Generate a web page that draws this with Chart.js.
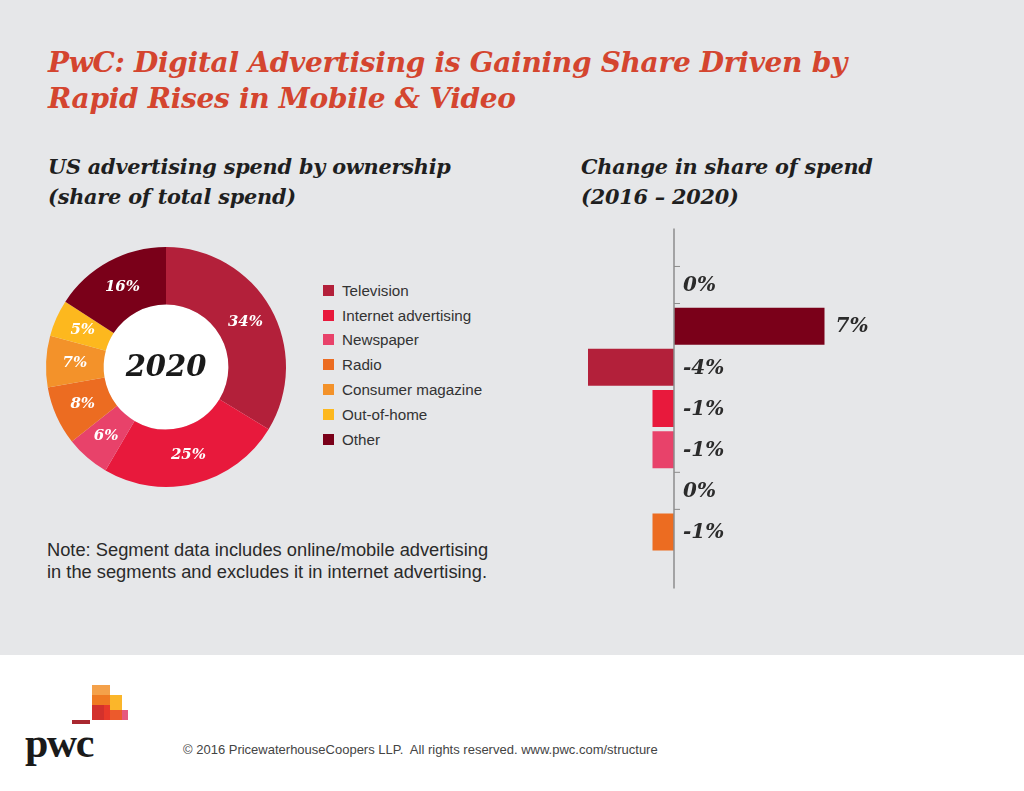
<!DOCTYPE html>
<html>
<head>
<meta charset="utf-8">
<script src="https://cdn.jsdelivr.net/npm/chart.js@4.4.1/dist/chart.umd.min.js"></script>
<style>
  html, body { margin: 0; padding: 0; }
  body { width: 1024px; height: 791px; position: relative; background: #fff; overflow: hidden; font-family: "Liberation Sans", Arial, sans-serif; }
  #panel { position: absolute; left: 0; top: 0; width: 1024px; height: 655px; background: #e6e7e9; }
  .serif { font-family: "DejaVu Serif", Georgia, serif; font-weight: bold; font-style: italic; }
  #title { position: absolute; left: 48px; top: 45px; font-size: 28px; line-height: 36px; color: #d4452f; letter-spacing: -0.3px; }
  .sub { position: absolute; top: 152px; font-size: 20.8px; line-height: 30px; color: #1f1f1f; letter-spacing: -0.2px; }
  #legend { position: absolute; left: 323px; top: 278px; }
  .item { height: 24.8px; display: flex; align-items: center; font-size: 15.2px; color: #333; }
  .sw { width: 11px; height: 11px; margin-right: 8px; }
  #note { position: absolute; left: 47px; top: 539px; font-size: 18.3px; line-height: 21.5px; color: #2a2a2a; }
  #foot { position: absolute; left: 183px; top: 742px; font-size: 13px; color: #444; }
  #pwc { position: absolute; left: 25px; top: 722px; font-family: "Liberation Serif", serif; font-weight: bold; font-size: 42px; line-height: 42px; color: #1a1a1a; letter-spacing: -1.5px; }
  .blk { position: absolute; }
  canvas { position: absolute; }
</style>
</head>
<body>
<div id="panel"></div>
<div id="title" class="serif">PwC: Digital Advertising is Gaining Share Driven by<br>Rapid Rises in Mobile &amp; Video</div>
<div class="sub serif" style="left:48px">US advertising spend by ownership<br>(share of total spend)</div>
<div class="sub serif" style="left:581px">Change in share of spend<br>(2016 – 2020)</div>
<div id="legend"></div>
<div id="note">Note: Segment data includes online/mobile advertising<br>in the segments and excludes it in internet advertising.</div>

<canvas id="donut" width="260" height="260" style="left:36px; top:237px"></canvas>
<canvas id="bars" width="340" height="380" style="left:560px; top:220px"></canvas>

<div class="blk" style="left:92px; top:685px; width:18px; height:10px; background:#f4a14a"></div>
<div class="blk" style="left:92px; top:695px; width:18px; height:10px; background:#ef7a22"></div>
<div class="blk" style="left:110px; top:695px; width:12px; height:15px; background:#fbb62a"></div>
<div class="blk" style="left:92px; top:705px; width:12px; height:15px; background:#d3312c"></div>
<div class="blk" style="left:104px; top:705px; width:6px; height:15px; background:#e8392a"></div>
<div class="blk" style="left:110px; top:710px; width:12px; height:10px; background:#ec5a2c"></div>
<div class="blk" style="left:122px; top:710px; width:6px; height:10px; background:#e6587e"></div>
<div class="blk" style="left:72px; top:720px; width:18px; height:4px; background:#a92830"></div>
<div id="pwc">pwc</div>
<div id="foot">© 2016 PricewaterhouseCoopers LLP.&nbsp; All rights reserved. www.pwc.com/structure</div>

<script>
const segments = ["Television", "Internet advertising", "Newspaper", "Radio", "Consumer magazine", "Out-of-home", "Other"];
const share2020 = [34, 25, 6, 8, 7, 5, 16];
const segColors = ["#b3203a", "#e8193c", "#e8426a", "#ec6c21", "#f3922a", "#fdb81e", "#7a0019"];

const changeRows = ["Out-of-home", "Other", "Television", "Internet advertising", "Newspaper", "Consumer magazine", "Radio"];
const changeValues = [0, 7, -4, -1, -1, 0, -1];
const changeColors = ["#fdb81e", "#7a0019", "#b3203a", "#e8193c", "#e8426a", "#f3922a", "#ec6c21"];

const serif = "'DejaVu Serif', Georgia, serif";

// legend
const legend = document.getElementById("legend");
segments.forEach((s, i) => {
  const row = document.createElement("div");
  row.className = "item";
  row.innerHTML = '<span class="sw" style="background:' + segColors[i] + '"></span>' + s;
  legend.appendChild(row);
});

const donutExtras = {
  id: "donutExtras",
  beforeDatasetsDraw(chart) {
    const arc = chart.getDatasetMeta(0).data[0];
    const ctx = chart.ctx;
    ctx.save();
    ctx.fillStyle = "#fff";
    ctx.beginPath();
    ctx.arc(arc.x, arc.y, arc.innerRadius, 0, Math.PI * 2);
    ctx.fill();
    ctx.restore();
  },
  afterDatasetsDraw(chart) {
    const ctx = chart.ctx;
    const meta = chart.getDatasetMeta(0);
    ctx.save();
    ctx.fillStyle = "#fff";
    ctx.font = "bold italic 15px " + serif;
    ctx.textAlign = "center";
    ctx.textBaseline = "middle";
    meta.data.forEach((el, i) => {
      const p = el.tooltipPosition();
      ctx.fillText(share2020[i] + "%", p.x, p.y);
    });
    const c = meta.data[0];
    ctx.fillStyle = "#1a1a1a";
    ctx.font = "bold italic 29px " + serif;
    ctx.fillText("2020", c.x, c.y + 1);
    ctx.restore();
  }
};

new Chart(document.getElementById("donut"), {
  type: "doughnut",
  data: {
    labels: segments,
    datasets: [{
      data: share2020,
      backgroundColor: segColors,
      borderWidth: 0
    }]
  },
  options: {
    responsive: false,
    animation: false,
    cutout: "52%",
    layout: { padding: 10 },
    plugins: { legend: { display: false }, tooltip: { enabled: false } }
  },
  plugins: [donutExtras]
});

const barExtras = {
  id: "barExtras",
  afterDatasetsDraw(chart) {
    const ctx = chart.ctx;
    const area = chart.chartArea;
    const x0 = chart.scales.x.getPixelForValue(0);
    const meta = chart.getDatasetMeta(0);
    ctx.save();
    ctx.strokeStyle = "#8c8c8c";
    ctx.lineWidth = 1.5;
    ctx.beginPath();
    ctx.moveTo(x0, area.top - 36);
    ctx.lineTo(x0, area.bottom + 36);
    ctx.stroke();
    ctx.lineWidth = 1;
    meta.data.forEach((bar, i) => {
      if (changeValues[i] !== 0) return;
      const half = bar.height / 2;
      ctx.beginPath();
      ctx.moveTo(x0, bar.y - half);
      ctx.lineTo(x0 + 6, bar.y - half);
      ctx.moveTo(x0, bar.y + half);
      ctx.lineTo(x0 + 6, bar.y + half);
      ctx.stroke();
    });
    ctx.fillStyle = "#2b2b2b";
    ctx.font = "bold italic 20px " + serif;
    ctx.textAlign = "left";
    ctx.textBaseline = "middle";
    meta.data.forEach((bar, i) => {
      const v = changeValues[i];
      const x = v > 0 ? bar.x + 11 : x0 + 9;
      ctx.fillText(v + "%", x, bar.y + 1);
    });
    ctx.restore();
  }
};

new Chart(document.getElementById("bars"), {
  type: "bar",
  data: {
    labels: changeRows,
    datasets: [{
      data: changeValues,
      backgroundColor: changeColors,
      borderWidth: 0,
      barPercentage: 0.9,
      categoryPercentage: 1
    }]
  },
  options: {
    indexAxis: "y",
    responsive: false,
    animation: false,
    layout: { padding: { left: 6.5, right: 11, top: 44.4, bottom: 47.4 } },
    scales: {
      x: { display: false, min: -5, max: 10 },
      y: { display: false }
    },
    plugins: { legend: { display: false }, tooltip: { enabled: false } }
  },
  plugins: [barExtras]
});
</script>
</body>
</html>
